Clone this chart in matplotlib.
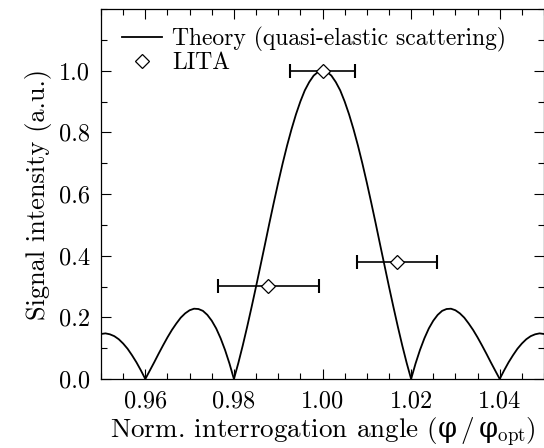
import numpy as np
import matplotlib
matplotlib.use('Agg')
import matplotlib.pyplot as plt
from matplotlib.ticker import MultipleLocator

plt.rcParams['font.family'] = ['cmr10', 'DejaVu Serif']
plt.rcParams['mathtext.fontset'] = 'custom'
plt.rcParams['mathtext.rm'] = 'cmr10'
plt.rcParams['mathtext.sf'] = 'DejaVu Serif'
plt.rcParams['axes.formatter.use_mathtext'] = True

# theory curve (step 0.001 in normalized angle)
theory_x = np.linspace(0.95, 1.05, 101)
theory_y = [0.146, 0.148, 0.145, 0.139, 0.129, 0.115, 0.098, 0.077, 0.054, 0.028,
            0.0, 0.027, 0.054, 0.082, 0.109, 0.135, 0.159, 0.180, 0.199, 0.213,
            0.223, 0.228, 0.227, 0.221, 0.208, 0.189, 0.164, 0.132, 0.094, 0.050,
            0.0, 0.052, 0.109, 0.170, 0.234, 0.300, 0.368, 0.436, 0.505, 0.572,
            0.637, 0.699, 0.757, 0.810, 0.858, 0.900, 0.936, 0.963, 0.984, 0.996,
            1.0,
            0.996, 0.984, 0.963, 0.936, 0.900, 0.858, 0.810, 0.757, 0.699, 0.637,
            0.572, 0.505, 0.436, 0.368, 0.300, 0.234, 0.170, 0.109, 0.052, 0.0,
            0.050, 0.094, 0.132, 0.164, 0.189, 0.208, 0.221, 0.227, 0.228, 0.223,
            0.213, 0.199, 0.180, 0.159, 0.135, 0.109, 0.082, 0.054, 0.027, 0.0,
            0.028, 0.054, 0.077, 0.098, 0.115, 0.129, 0.139, 0.145, 0.148, 0.146]

# LITA measurements
lita_x = [0.9878, 1.0000, 1.0168]
lita_y = [0.303, 1.000, 0.378]
lita_xerr = [0.0114, 0.0073, 0.0091]

fig = plt.figure(figsize=(5.44, 4.48), dpi=100)
ax = fig.add_axes([0.1857, 0.154, 0.8143, 0.8259])

ax.plot(theory_x, theory_y, color='black', lw=1.3,
        label='Theory (quasi-elastic scattering)')
ax.errorbar(lita_x, lita_y, xerr=lita_xerr, fmt='none', ecolor='black',
            elinewidth=1.2, capsize=4.7, capthick=1.5, zorder=3)
ax.plot(lita_x, lita_y, ls='none', marker='D', ms=7.3, mfc='white',
        mec='black', mew=0.9, label='LITA', zorder=4)

ax.set_xlim(0.95, 1.05)
ax.set_ylim(0.0, 1.2)
ax.xaxis.set_minor_locator(MultipleLocator(0.005))
ax.yaxis.set_minor_locator(MultipleLocator(0.1))
ax.set_xticks([0.96, 0.98, 1.00, 1.02, 1.04])
ax.set_xticklabels(['0.96', '0.98', '1.00', '1.02', '1.04'])
ax.set_yticks([0.0, 0.2, 0.4, 0.6, 0.8, 1.0])
ax.set_yticklabels(['0.0', '0.2', '0.4', '0.6', '0.8', '1.0'])

ax.tick_params(which='both', direction='in', top=True, right=True,
               width=0.8, labelsize=17.5, pad=8)
ax.tick_params(which='major', length=7)
ax.tick_params(which='minor', length=4)
for s in ax.spines.values():
    s.set_linewidth(0.9)

ax.set_xlabel('Norm. interrogation angle ($\\mathsf{φ}\\,/\\,\\mathsf{φ}_{\\rm opt}$)',
              fontsize=19.5, labelpad=2)
ax.set_ylabel('Signal intensity (a.u.)', fontsize=19, labelpad=5)

ax.legend(loc='upper left', bbox_to_anchor=(0.047, 0.952), frameon=False,
          fontsize=17, handlelength=1.7, handletextpad=0.42,
          borderaxespad=0.0, borderpad=0.0, labelspacing=0.0)

fig.savefig('out.png', dpi=100)
